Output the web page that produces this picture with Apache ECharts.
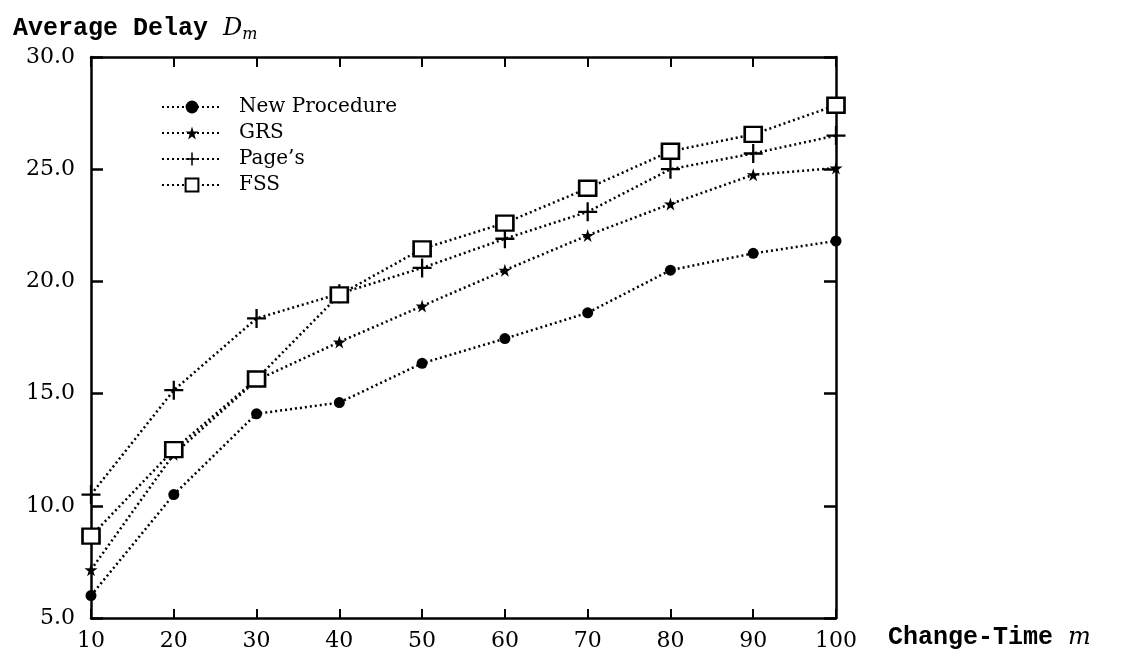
<!DOCTYPE html>
<html>
<head>
<meta charset="utf-8">
<script src="https://cdn.jsdelivr.net/npm/echarts@6/dist/echarts.min.js"></script>
<style>
  html, body { margin: 0; padding: 0; background: #fff; }
  #chart { width: 1122px; height: 663px; }
</style>
</head>
<body>
<div id="chart"></div>
<script>
// change-time m
const changeTimes = [10, 20, 30, 40, 50, 60, 70, 80, 90, 100]

// average delay D_m per method
const newProcedure = [6.0, 10.5, 14.1, 14.6, 16.35, 17.45, 18.6, 20.5, 21.25, 21.8]
const grs = [7.15, 12.3, 15.6, 17.3, 18.9, 20.5, 22.05, 23.45, 24.75, 25.05]
const pages = [10.5, 15.15, 18.35, 19.45, 20.6, 21.9, 23.1, 25.0, 25.7, 26.5]
const fss = [8.65, 12.5, 15.65, 19.4, 21.45, 22.6, 24.15, 25.8, 26.55, 27.85]

const seriesNames = ['New Procedure', 'GRS', 'Page\u2019s', 'FSS']
const yTicks = [5, 10, 15, 20, 25, 30]

const serif = '"DejaVu Serif", "Liberation Serif", serif'
const mono = '"Liberation Mono", "DejaVu Sans Mono", monospace'

const starPath = 'path://M50,0 L61,35 98,35 68,57 79,91 50,70 21,91 32,57 2,35 39,35z'
const plusPath = 'path://M0,44 L100,44 L100,56 L0,56z M44,0 L56,0 L56,100 L44,100z'

function makeSeries (name, values, symbol, size, extra) {
  return Object.assign({
    name,
    type: 'line',
    data: changeTimes.map((m, i) => [m, values[i]]),
    symbol,
    symbolSize: size,
    lineStyle: { color: '#000', width: 2.5, type: [2, 3] },
    itemStyle: { color: '#000' },
    emphasis: { disabled: true },
    z: 3
  }, extra || {})
}

const chart = echarts.init(document.getElementById('chart'))

const option = {
  animation: false,
  backgroundColor: '#fff',
  title: {
    left: 8,
    top: 10,
    text: 'Average Delay {i|D}{s|m}',
    textStyle: {
      fontFamily: mono,
      fontWeight: 'bold',
      fontSize: 25,
      color: '#000',
      rich: {
        i: { fontFamily: serif, fontStyle: 'italic', fontWeight: 'normal', fontSize: 24, color: '#000' },
        s: { fontFamily: serif, fontStyle: 'italic', fontWeight: 'normal', fontSize: 16, color: '#000', padding: [12, 0, 0, 0] }
      }
    }
  },
  legend: {
    orient: 'vertical',
    left: 156,
    top: 90,
    itemWidth: 60,
    itemHeight: 16,
    itemGap: 2,
    textStyle: { fontFamily: serif, fontSize: 20, lineHeight: 24, color: '#000', padding: [0, 0, 0, 12] },
    data: seriesNames
  },
  grid: { left: 91, right: 286, top: 57, bottom: 45, outerBoundsMode: 'none' },
  xAxis: [{
    type: 'value',
    min: 10,
    max: 100,
    interval: 10,
    axisLine: { lineStyle: { color: '#000', width: 2.5 } },
    axisTick: { inside: true, length: 9, lineStyle: { color: '#000', width: 2 } },
    splitLine: { show: false },
    axisLabel: { fontFamily: serif, fontSize: 22, color: '#000', margin: 12 },
    name: 'Change-Time {i|m}',
    nameLocation: 'end',
    nameGap: 52,
    nameTextStyle: {
      fontFamily: mono,
      fontWeight: 'bold',
      fontSize: 25,
      color: '#000',
      padding: [40, 0, 0, 0],
      rich: { i: { fontFamily: serif, fontStyle: 'italic', fontWeight: 'normal', fontSize: 24, color: '#000' } }
    }
  }, {
    type: 'value',
    position: 'top',
    min: 10,
    max: 100,
    interval: 10,
    axisLine: { lineStyle: { color: '#000', width: 2.5 } },
    axisTick: { inside: true, length: 10, lineStyle: { color: '#000', width: 2 } },
    axisLabel: { show: false },
    splitLine: { show: false }
  }],
  yAxis: [{
    type: 'value',
    min: yTicks[0],
    max: yTicks[yTicks.length - 1],
    interval: 5,
    axisLine: { lineStyle: { color: '#000', width: 2.5 } },
    axisTick: { inside: true, length: 12, lineStyle: { color: '#000', width: 2.5 } },
    splitLine: { show: false },
    axisLabel: {
      fontFamily: serif,
      fontSize: 22,
      color: '#000',
      margin: 16,
      formatter: v => v.toFixed(1)
    }
  }, {
    type: 'value',
    position: 'right',
    min: yTicks[0],
    max: yTicks[yTicks.length - 1],
    interval: 5,
    axisLine: { lineStyle: { color: '#000', width: 2.5 } },
    axisTick: { inside: true, length: 12, lineStyle: { color: '#000', width: 2.5 } },
    axisLabel: { show: false },
    splitLine: { show: false }
  }],
  series: [
    makeSeries(seriesNames[0], newProcedure, 'circle', 11),
    makeSeries(seriesNames[1], grs, starPath, 13),
    makeSeries(seriesNames[2], pages, plusPath, 19),
    makeSeries(seriesNames[3], fss, 'rect', [17, 15], {
      itemStyle: { color: '#fff', borderColor: '#000', borderWidth: 2.5 }
    })
  ]
}

chart.setOption(option)
</script>
</body>
</html>
